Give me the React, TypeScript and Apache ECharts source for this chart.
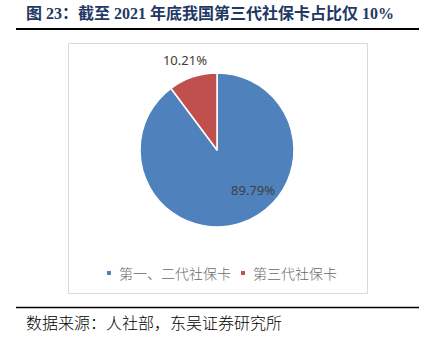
import React, { useEffect, useRef } from "react";
import * as echarts from "echarts";

const categories = ["第一、二代社保卡", "第三代社保卡"];
const values = [89.79, 10.21];
const colors = ["#4f81bd", "#c0504d"];
const titleText = "图 23：截至 2021 年底我国第三代社保卡占比仅 10%";
const sourceText = "数据来源：人社部，东吴证券研究所";

export default function App() {
  const ref = useRef<HTMLDivElement>(null);
  useEffect(() => {
    if (!ref.current) return;
    const chart = echarts.init(ref.current, null, { renderer: "svg" });
    const labelOffsets = [
      [23, 1],
      [-19, -51],
    ];
    chart.setOption({
      animation: false,
      backgroundColor: "#ffffff",
      color: colors,
      legend: {
        left: 100,
        top: 261,
        icon: "rect",
        itemWidth: 6,
        itemHeight: 6,
        itemGap: 8,
        data: categories,
        textStyle: {
          fontSize: 14,
          color: "#6a6a6a",
          fontFamily: "Noto Sans CJK SC",
          fontWeight: 300,
          padding: [0, 0, 0, 2],
        },
      },
      graphic: [
        {
          type: "text",
          left: 26,
          top: 5,
          style: {
            text: titleText,
            font: 'bold 16px "Liberation Serif", "Noto Sans CJK SC"',
            fill: "#1f3864",
          },
        },
        {
          type: "line",
          shape: { x1: 16, y1: 29, x2: 419, y2: 29 },
          style: { stroke: "#000000", lineWidth: 2 },
        },
        {
          type: "rect",
          shape: { x: 68.5, y: 43.5, width: 299, height: 250 },
          style: { fill: "none", stroke: "#d9d9d9", lineWidth: 1 },
        },
        {
          type: "line",
          shape: { x1: 16, y1: 307.5, x2: 419, y2: 307.5 },
          style: { stroke: "#000000", lineWidth: 1.5 },
        },
        {
          type: "text",
          left: 26,
          top: 314,
          style: {
            text: sourceText,
            font: '300 16px "Noto Sans CJK SC"',
            fill: "#000000",
          },
        },
      ],
      series: [
        {
          type: "pie",
          center: [217, 150],
          radius: 77,
          startAngle: 90,
          clockwise: true,
          itemStyle: { borderColor: "#ffffff", borderWidth: 1.5 },
          labelLine: { show: false },
          emphasis: { disabled: true },
          data: categories.map((name, i) => ({
            name,
            value: values[i],
            label: {
              show: true,
              position: "inside",
              formatter: "{c}%",
              offset: labelOffsets[i],
              fontSize: 13,
              color: "#404040",
              fontFamily: "Noto Sans",
            },
          })),
        },
      ],
    });
    return () => chart.dispose();
  }, []);
  return (
    <div
      ref={ref}
      style={{ position: "absolute", left: 0, top: 0, width: 430, height: 344 }}
    />
  );
}
